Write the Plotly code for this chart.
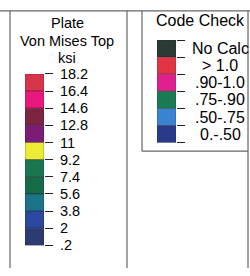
import plotly.graph_objects as go

# Left legend: Plate Von Mises Top (ksi)
vm_ticks = [18.2, 16.4, 14.6, 12.8, 11.0, 9.2, 7.4, 5.6, 3.8, 2.0, 0.2]
vm_tick_labels = ["18.2", "16.4", "14.6", "12.8", "11", "9.2", "7.4", "5.6", "3.8", "2", ".2"]
vm_colors = ["#d8344c", "#e8187c", "#7c2440", "#7a1c78", "#ecec34",
             "#1a7650", "#166c48", "#1c7488", "#2c48a0", "#2c3c70"]

# Right legend: Code Check
cc_labels = ["No Calc", "> 1.0", ".90-1.0", ".75-.90", ".50-.75", "0.-.50"]
cc_colors = ["#2c3a36", "#e23444", "#e0208c", "#1a7a52", "#3a82d2", "#2a3a8a"]

W, H = 250, 276
def px(x): return x / W
def py(y): return 1 - y / H

fig = go.Figure()

# left stacked bar
bases = vm_ticks[1:]
heights = [vm_ticks[i] - vm_ticks[i + 1] for i in range(len(vm_ticks) - 1)]
fig.add_trace(go.Bar(x=[0] * len(heights), y=heights, base=bases, width=1,
                     marker=dict(color=vm_colors, line=dict(color="rgba(40,20,40,0.45)", width=0.8)),
                     xaxis="x", yaxis="y", hoverinfo="skip", showlegend=False))

# right stacked bar (top item = highest)
n = len(cc_labels)
cc_base = [n - 1 - i for i in range(n)]
fig.add_trace(go.Bar(x=[0] * n, y=[1] * n, base=cc_base, width=1,
                     marker=dict(color=cc_colors, line=dict(color="rgba(30,30,40,0.4)", width=0.8)),
                     xaxis="x2", yaxis="y2", hoverinfo="skip", showlegend=False))

font_l = dict(family="Liberation Sans, Arial", size=14.5, color="#000")
font_r = dict(family="Liberation Sans, Arial", size=16, color="#000")

fig.update_layout(
    width=W, height=H, autosize=False,
    margin=dict(l=0, r=0, t=0, b=0, pad=0),
    paper_bgcolor="white", plot_bgcolor="rgba(0,0,0,0)",
    barmode="overlay", hovermode=False,
    xaxis=dict(domain=[px(25), px(44)], range=[-0.5, 0.5], visible=False, fixedrange=True),
    yaxis=dict(domain=[py(252), py(70)], range=[vm_ticks[-1], vm_ticks[0]], anchor="x", side="right",
               tickvals=vm_ticks, ticktext=vm_tick_labels, ticks="outside", ticklen=8, tickwidth=1.2,
               tickcolor="#222", showgrid=False, zeroline=False, showline=False,
               tickfont=font_l, ticklabelstandoff=4, fixedrange=True),
    xaxis2=dict(domain=[px(157), px(176)], range=[-0.5, 0.5], visible=False, fixedrange=True),
    yaxis2=dict(domain=[py(143), py(34)], range=[0, n], anchor="x2", side="right",
                tickvals=list(range(n + 1)), ticks="outside", ticklen=8, tickwidth=1.2,
                tickcolor="#222", showticklabels=False, showgrid=False, zeroline=False,
                showline=False, fixedrange=True),
)

# titles
for txt, y in [("Plate", 16), ("Von Mises Top", 35), ("ksi", 53)]:
    fig.add_annotation(text=txt, xref="paper", yref="paper", x=px(67), y=py(y),
                       xanchor="center", yanchor="middle", showarrow=False, font=font_l)
fig.add_annotation(text="Code Check", xref="paper", yref="paper", x=px(200), y=py(13),
                   xanchor="center", yanchor="middle", showarrow=False, font=font_r)
for i, lab in enumerate(cc_labels):
    fig.add_annotation(text=lab, xref="paper", yref="y2", x=px(220), y=cc_base[i] + 0.5,
                       xanchor="center", yanchor="middle", showarrow=False, font=font_r)

# frame lines
lc = "#666"
lines = [
    (0, 3, 250, 3), (10, 3, 10, 276), (127, 3, 127, 276), (248, 3, 248, 276),
    (142, 3, 142, 152), (142, 152, 248, 152),
]
for x0, y0, x1, y1 in lines:
    fig.add_shape(type="line", xref="paper", yref="paper", x0=px(x0), y0=py(y0), x1=px(x1), y1=py(y1),
                  line=dict(color=lc, width=1.2))

fig.write_html("out.html", config={"displayModeBar": False},
               post_script="document.body.style.margin='0';document.body.style.overflow='hidden';")
